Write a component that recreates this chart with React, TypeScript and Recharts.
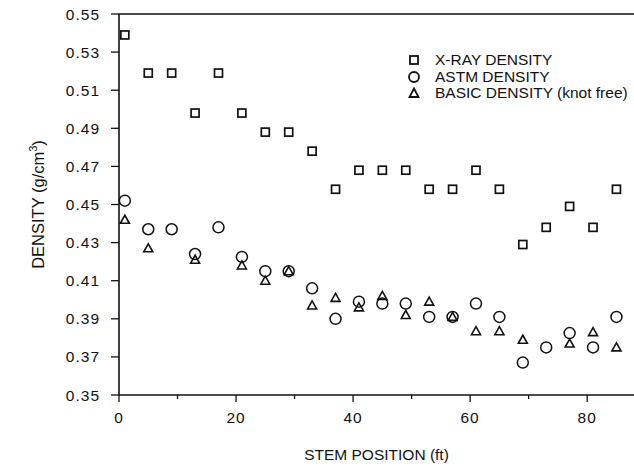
import { ScatterChart, Scatter, XAxis, YAxis, ReferenceLine } from 'recharts';

// stem positions (ft) where the samples were taken
const positions = [1, 5, 9, 13, 17, 21, 25, 29, 33, 37, 41, 45, 49, 53, 57, 61, 65, 69, 73, 77, 81, 85];

const xrayDensity = [0.539, 0.519, 0.519, 0.498, 0.519, 0.498, 0.488, 0.488, 0.478, 0.458, 0.468, 0.468, 0.468, 0.458, 0.458, 0.468, 0.458, 0.429, 0.438, 0.449, 0.438, 0.458];
const astmDensity = [0.452, 0.437, 0.437, 0.424, 0.438, 0.4225, 0.415, 0.415, 0.406, 0.39, 0.399, 0.398, 0.398, 0.391, 0.391, 0.398, 0.391, 0.367, 0.375, 0.3825, 0.375, 0.391];
const basicDensity = [0.442, 0.427, null, 0.421, null, 0.418, 0.41, 0.415, 0.397, 0.401, 0.396, 0.402, 0.392, 0.399, 0.391, 0.3835, 0.3835, 0.379, null, 0.377, 0.383, 0.375];

const xTicks = [0, 10, 20, 30, 40, 50, 60, 70, 80];
const yTicks = [0.35, 0.37, 0.39, 0.41, 0.43, 0.45, 0.47, 0.49, 0.51, 0.53, 0.55];

const toPoints = (vals: (number | null)[]) =>
  positions
    .map((x, i) => ({ x, y: vals[i] }))
    .filter((p) => p.y !== null);

const FONT = '"Liberation Sans", Arial, Helvetica, sans-serif';
const INK = '#111';

const Square = (p: any) => (
  <rect x={p.cx - 4} y={p.cy - 4} width={8} height={8} fill="#fff" stroke={INK} strokeWidth={1.7} />
);
const Circle = (p: any) => (
  <circle cx={p.cx} cy={p.cy} r={5.5} fill="none" stroke={INK} strokeWidth={1.5} />
);
const Triangle = (p: any) => (
  <polygon
    points={`${p.cx},${p.cy - 4.5} ${p.cx + 4.5},${p.cy + 3.5} ${p.cx - 4.5},${p.cy + 3.5}`}
    fill="none"
    stroke={INK}
    strokeWidth={1.6}
  />
);

const XTick = (props: any) => {
  const { x, y, payload } = props;
  const major = payload.value % 20 === 0;
  return (
    <g>
      <line x1={x} y1={y} x2={x} y2={y + (major ? 7 : 4)} stroke={INK} strokeWidth={1.3} />
      {major && (
        <text x={x} y={y + 28} textAnchor="middle" fontSize={15.5} letterSpacing={1} fontFamily={FONT} fill={INK}>
          {payload.value}
        </text>
      )}
    </g>
  );
};

const YLabel = (props: any) => {
  const vb = props.viewBox || {};
  const cx = 44;
  const cy = (vb.y ?? 14) + (vb.height ?? 381) / 2;
  return (
    <text
      x={cx}
      y={cy}
      transform={`rotate(-90 ${cx} ${cy})`}
      textAnchor="middle"
      fontSize={16.5}
      fontFamily={FONT}
      fill={INK}
    >
      DENSITY (g/cm
      <tspan fontSize={11} dy={-7}>3</tspan>
      <tspan dy={7}>)</tspan>
    </text>
  );
};

const legendItems = [
  { label: 'X-RAY DENSITY', icon: <rect x={3} y={3} width={8} height={8} fill="none" stroke={INK} strokeWidth={1.8} /> },
  { label: 'ASTM DENSITY', icon: <circle cx={7} cy={7} r={5} fill="none" stroke={INK} strokeWidth={1.8} /> },
  { label: 'BASIC DENSITY (knot free)', icon: <polygon points="7,2.5 11.5,11 2.5,11" fill="none" stroke={INK} strokeWidth={1.8} /> },
];

const LegendBox = () => (
  <div style={{ position: 'absolute', left: 407, top: 52, fontFamily: FONT, fontSize: 15.5, color: INK, lineHeight: '16.5px' }}>
    {legendItems.map((it) => (
      <div key={it.label} style={{ display: 'flex', alignItems: 'center' }}>
        <svg width={14} height={14} style={{ marginRight: 14 }}>{it.icon}</svg>
        <span style={{ whiteSpace: 'nowrap' }}>{it.label}</span>
      </div>
    ))}
  </div>
);

export default function App() {
  return (
    <div style={{ position: 'absolute', left: 0, top: 0, width: 634, height: 470, background: '#fff' }}>
      <ScatterChart width={634} height={470} margin={{ top: 14, right: 0, bottom: 0, left: 0 }}>
        <XAxis
          type="number"
          dataKey="x"
          domain={[0, 88]}
          ticks={xTicks}
          tick={<XTick />}
          tickLine={false}
          tickSize={0}
          tickMargin={0}
          height={75}
          axisLine={{ stroke: INK, strokeWidth: 1.6 }}
          label={{ value: 'STEM POSITION (ft)', position: 'insideBottom', offset: 10, fill: INK, fontSize: 15.5, fontFamily: FONT }}
        />
        <YAxis
          type="number"
          dataKey="y"
          domain={[0.35, 0.55]}
          ticks={yTicks}
          width={119}
          tickSize={8}
          tickMargin={11}
          tickLine={{ stroke: INK, strokeWidth: 1.3 }}
          axisLine={{ stroke: INK, strokeWidth: 1.6 }}
          tickFormatter={(v: number) => v.toFixed(2)}
          tick={{ fill: INK, fontSize: 15.5, fontFamily: FONT, letterSpacing: 1 }}
          label={<YLabel />}
        />
        <ReferenceLine y={0.55} stroke={INK} strokeWidth={1.4} />
        <Scatter name="X-RAY DENSITY" data={toPoints(xrayDensity)} shape={Square} isAnimationActive={false} />
        <Scatter name="ASTM DENSITY" data={toPoints(astmDensity)} shape={Circle} isAnimationActive={false} />
        <Scatter name="BASIC DENSITY (knot free)" data={toPoints(basicDensity)} shape={Triangle} isAnimationActive={false} />
      </ScatterChart>
      <LegendBox />
    </div>
  );
}
